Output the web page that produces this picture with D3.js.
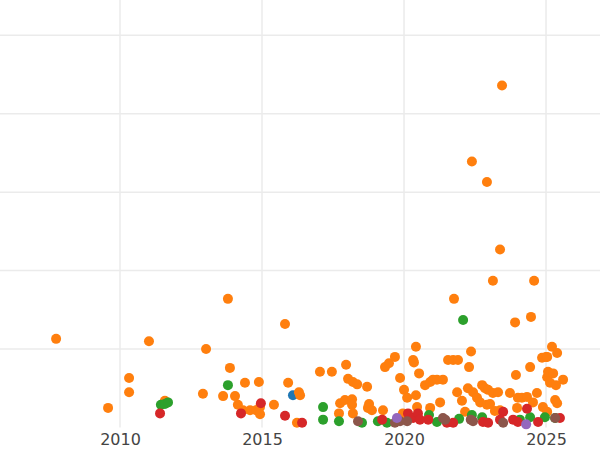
<!DOCTYPE html>
<html><head><meta charset="utf-8">
<script src="https://cdn.jsdelivr.net/npm/d3@7"></script>
<style>body{margin:0;background:#fff}</style></head>
<body><svg id="c" width="600" height="450"></svg>
<script>
const xTicks=[2010,2015,2020,2025];
const yTicks=[100,200,300,400,500];
const orangeX=[2007.75,2009.58,2010.32,2010.32,2011.02,2011.58,2013.03,2012.92,2013.80,2013.87,2013.63,2014.05,2014.15,2014.40,2014.33,2014.58,2014.79,2014.89,2014.93,2014.93,2015.42,2015.81,2015.92,2016.30,2016.34,2016.23,2017.04,2017.46,2017.96,2017.75,2017.92,2018.17,2018.03,2018.20,2018.35,2018.70,2017.71,2018.17,2018.20,2018.77,2018.73,2018.87,2019.26,2019.33,2019.47,2019.68,2019.86,2020.00,2020.11,2020.32,2020.35,2020.42,2020.53,2020.42,2020.46,2020.74,2020.92,2021.02,2021.16,2021.37,2021.27,2020.92,2019.96,2021.55,2021.73,2021.90,2021.87,2022.04,2022.29,2022.36,2022.25,2022.43,2022.75,2022.85,2022.96,2023.13,2023.31,2022.57,2022.68,2022.92,2023.03,2023.38,2022.15,2023.73,2023.94,2024.01,2024.15,2024.33,2024.44,2024.54,2024.68,2024.86,2025.00,2025.04,2025.04,2025.07,2025.25,2025.14,2025.35,2025.21,2025.39,2025.60,2025.32,2025.39,2024.89,2023.98,2025.04,2023.20,2023.45,2022.39,2022.92,2023.38,2023.13,2024.58,2021.76,2023.91,2024.47];
const orangeY=[113,25,63,45,110,34,100,43,164,76,40,40,29,57,22,22,22,58,26,17,29,132,57,45,41,6,71,71,80,31,35,36,62,58,55,52,18,29,18,30,25,22,22,77,82,90,63,48,38,86,83,103,69,41,26,54,58,61,61,61,32,25,18,86,86,86,45,34,77,97,50,45,54,50,48,44,45,38,32,29,30,22,20,44,67,38,38,39,77,32,44,89,90,90,64,71,69,57,54,103,95,61,35,31,26,25,20,21,436,339,313,227,187,187,164,134,141];
const greenX=[2013.80,2011.44,2011.58,2011.69,2017.15,2017.15,2017.71,2022.08,2018.52,2019.08,2019.40,2020.88,2021.16,2021.94,2022.39,2022.75,2024.08,2024.44,2024.96,2025.32];
const greenY=[54,29,30,32,26,10,8,137,6,8,6,16,7,11,16,13,10,13,13,12];
const redX=[2011.41,2014.26,2014.96,2015.81,2016.41,2019.23,2020.14,2020.32,2020.49,2020.85,2021.51,2021.73,2022.78,2022.96,2023.49,2023.84,2024.33,2024.01,2024.72,2025.49,2020.56,2023.38];
const redY=[18,18,31,15,6,10,18,12,18,10,6,6,7,6,20,10,24,7,7,12,10,10];
const blueX=[2016.09], blueY=[41];
const purpleX=[2024.30,2019.75], purpleY=[4,12];
const brownX=[2018.38,2019.86,2020.11,2019.68,2021.37,2022.43,2023.49,2025.32,2021.45,2022.35];
const brownY=[8,8,8,6,12,8,6,12,10,10];

const svg=d3.select("#c");
const x=d3.scaleLinear().domain([2005.775,2026.9]).range([0,600]);
const y=d3.scaleLinear().domain([0,545]).range([427.5,0]);
const g=svg.append("g");
g.selectAll(".hg").data(yTicks).join("line").attr("x1",0).attr("x2",600)
 .attr("y1",d=>y(d)).attr("y2",d=>y(d)).attr("stroke","#ebebeb").attr("stroke-width",1.5);
g.selectAll(".vg").data(xTicks).join("line").attr("x1",d=>x(d)).attr("x2",d=>x(d))
 .attr("y1",0).attr("y2",427.5).attr("stroke","#ebebeb").attr("stroke-width",1.5);
const ax=svg.append("g").attr("transform","translate(0,427.5)")
 .call(d3.axisBottom(x).tickValues(xTicks).tickFormat(d3.format("d")).tickSize(0).tickPadding(6));
ax.select(".domain").remove();
ax.selectAll("text").attr("font-family","DejaVu Sans").attr("font-size",16).attr("fill","#444");
const series=[[blueX,blueY,"#1f77b4"],[orangeX,orangeY,"#ff7f0e"],[greenX,greenY,"#2ca02c"],[redX,redY,"#d62728"],[brownX,brownY,"#8c564b"],[purpleX,purpleY,"#9467bd"]];
series.forEach(([xs,ys,c])=>{
  svg.append("g").selectAll("circle").data(xs.map((v,i)=>[v,ys[i]])).join("circle")
   .attr("cx",d=>x(d[0])).attr("cy",d=>y(d[1])).attr("r",5).attr("fill",c);
});
</script></body></html>
